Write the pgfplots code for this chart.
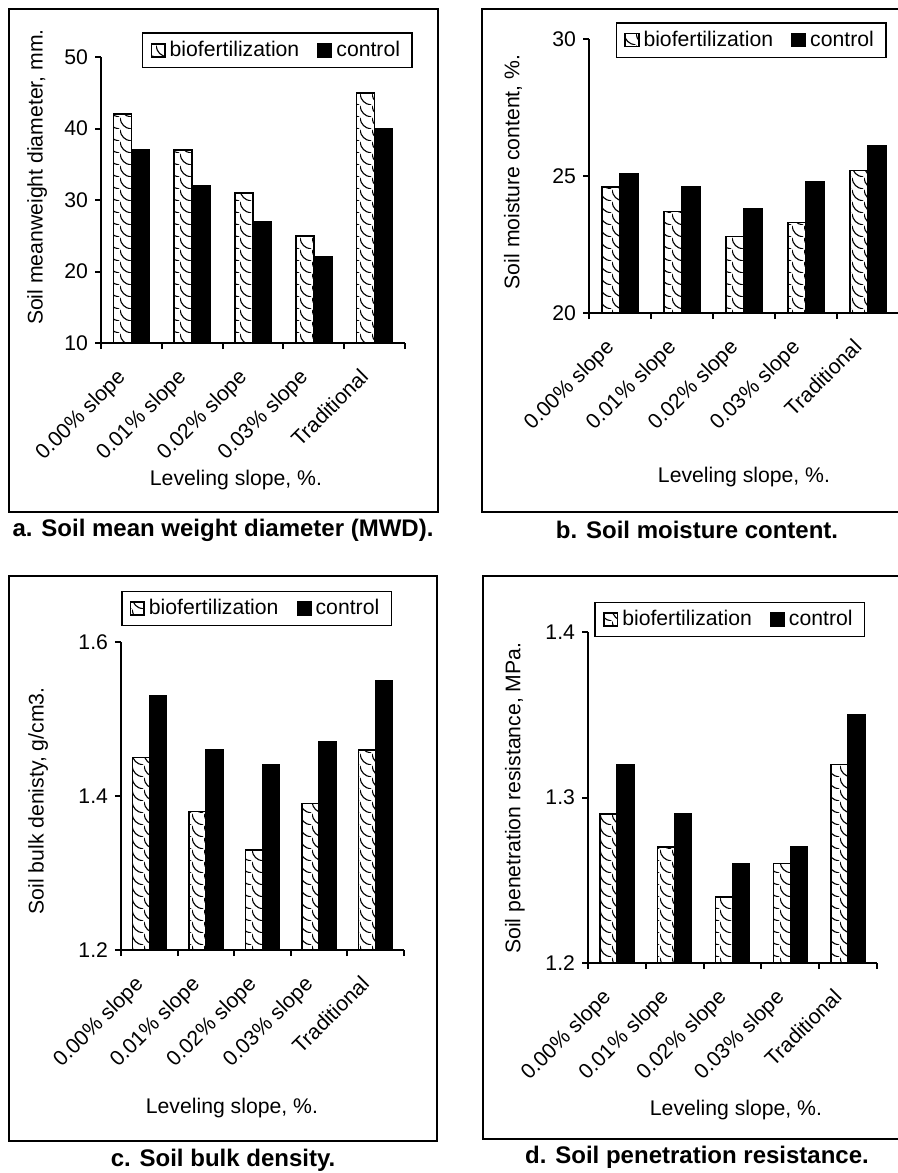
\documentclass[border=0pt]{standalone}
\usepackage{pgfplots}
\pgfplotsset{compat=1.18}
\usepackage{fontspec}
\setmainfont{Liberation Sans}
\usetikzlibrary{patterns}
\pgfdeclarepatternformonly{scales}{\pgfqpoint{0pt}{0pt}}{\pgfqpoint{6pt}{6pt}}{\pgfqpoint{6pt}{6pt}}{%
  \pgfsetlinewidth{0.6pt}%
  \pgfpathmoveto{\pgfqpoint{0pt}{6pt}}%
  \pgfpathcurveto{\pgfqpoint{0.5pt}{2.5pt}}{\pgfqpoint{2.5pt}{0.5pt}}{\pgfqpoint{6pt}{0pt}}%
  \pgfusepath{stroke}%
}
\pgfplotsset{
  panel/.style={
    scale only axis,
    axis lines*=left,
    ybar=0pt,
    xmin=0, xmax=5,
    xtick={0,...,5}, xticklabels={},
    extra x ticks={0.5,1.5,2.5,3.5,4.5},
    extra x tick labels={0.00\% slope,0.01\% slope,0.02\% slope,0.03\% slope,Traditional},
    extra x tick style={major tick length=0pt, tick label style={xshift=-8pt, yshift=-7.3pt, rotate=45, anchor=north east}},
    tick align=outside,
    major tick length=3pt,
    axis line style={line width=1pt},
    tick style={black, line width=1pt},
    font=\fontsize{10.6}{12.7}\selectfont,
    /pgf/number format/assume math mode=true,
    legend columns=2,
    legend cell align=left,
    legend style={draw=black, line width=0.75pt, anchor=center,
      font=\fontsize{10.6}{12.7}\selectfont,
      inner xsep=4pt, inner ysep=2pt,
      /tikz/every even column/.append style={column sep=7pt}},
    legend image code/.code={\draw[##1] (0pt,-3.3pt) rectangle (6.8pt,3.3pt);},
    xlabel={Leveling slope, \%.},
  },
  bio/.style={draw=black, line width=0.75pt, preaction={fill=white}, pattern=scales},
  ctrl/.style={draw=black, line width=0.75pt, fill=black},
}
\begin{document}
\begin{tikzpicture}
\useasboundingbox (0,0) rectangle (449pt,-586.5pt);
\clip (0,0) rectangle (449pt,-586.5pt);
% frames
\draw[line width=1pt] (4.5pt,-4.5pt) rectangle (219pt,-256pt);
\draw[line width=1pt] (241pt,-4.5pt) rectangle (460pt,-256pt);
\draw[line width=1pt] (4.5pt,-288pt) rectangle (218.5pt,-570.5pt);
\draw[line width=1pt] (241.5pt,-288pt) rectangle (460pt,-569.5pt);
% captions
\begin{scope}[every node/.style={font=\bfseries\fontsize{12}{14}\selectfont}]
\node at (111.5pt,-265pt) {a. Soil mean weight diameter (MWD).};
\node at (348.5pt,-265pt) {b. Soil moisture content.};
\node at (111.5pt,-580pt) {c. Soil bulk density.};
\node at (348.5pt,-578.5pt) {d. Soil penetration resistance.};
\end{scope}

% panel a
\begin{axis}[panel, at={(50.5pt,-171.5pt)}, anchor=south west,
  width=152pt, height=143pt, bar width=9pt,
  ymin=10, ymax=50, ytick={10,20,30,40,50},
  ylabel={Soil meanweight diameter, mm.},
  ylabel style={at={(axis description cs:-0.21,0.58)}, anchor=center},
  xlabel style={at={(axis description cs:0.444,-0.479)}, anchor=center},
  legend style={at={(axis description cs:0.58,1.023)}}]
\addplot[bio] coordinates {(0.5,42) (1.5,37) (2.5,31) (3.5,25) (4.5,45)};
\addplot[ctrl] coordinates {(0.5,37) (1.5,32) (2.5,27) (3.5,22) (4.5,40)};
\legend{biofertilization,control}
\end{axis}

% panel b
\begin{axis}[panel, at={(294.5pt,-156.5pt)}, anchor=south west,
  width=155pt, height=137pt, bar width=9pt,
  ymin=20, ymax=30, ytick={20,25,30},
  ylabel={Soil moisture content, \%.},
  ylabel style={at={(axis description cs:-0.245,0.515)}, anchor=center},
  xlabel style={at={(axis description cs:0.5,-0.599)}, anchor=center},
  legend style={at={(axis description cs:0.523,0.996)}}]
\addplot[bio] coordinates {(0.5,24.6) (1.5,23.7) (2.5,22.8) (3.5,23.3) (4.5,25.2)};
\addplot[ctrl] coordinates {(0.5,25.1) (1.5,24.6) (2.5,23.8) (3.5,24.8) (4.5,26.1)};
\legend{biofertilization,control}
\end{axis}

% panel c
\begin{axis}[panel, at={(60.5pt,-475pt)}, anchor=south west,
  width=141.5pt, height=154pt, bar width=8.5pt,
  ymin=1.2, ymax=1.6, ytick={1.2,1.4,1.6},
  yticklabel style={/pgf/number format/.cd, fixed, fixed zerofill, precision=1},
  ylabel={Soil bulk denisty, g/cm3.},
  ylabel style={at={(axis description cs:-0.293,0.484)}, anchor=center},
  xlabel style={at={(axis description cs:0.392,-0.513)}, anchor=center},
  legend style={at={(axis description cs:0.479,1.109)}}]
\addplot[bio] coordinates {(0.5,1.45) (1.5,1.38) (2.5,1.33) (3.5,1.39) (4.5,1.46)};
\addplot[ctrl] coordinates {(0.5,1.53) (1.5,1.46) (2.5,1.44) (3.5,1.47) (4.5,1.55)};
\legend{biofertilization,control}
\end{axis}

% panel d
\begin{axis}[panel, at={(294pt,-481.5pt)}, anchor=south west,
  width=144.5pt, height=165.5pt, bar width=8.5pt,
  ymin=1.2, ymax=1.4, ytick={1.2,1.3,1.4},
  yticklabel style={/pgf/number format/.cd, fixed, fixed zerofill, precision=1},
  ylabel={Soil penetration resistance, MPa.},
  ylabel style={at={(axis description cs:-0.253,0.498)}, anchor=center},
  xlabel style={at={(axis description cs:0.512,-0.444)}, anchor=center},
  legend style={at={(axis description cs:0.491,1.038)}}]
\addplot[bio] coordinates {(0.5,1.29) (1.5,1.27) (2.5,1.24) (3.5,1.26) (4.5,1.32)};
\addplot[ctrl] coordinates {(0.5,1.32) (1.5,1.29) (2.5,1.26) (3.5,1.27) (4.5,1.35)};
\legend{biofertilization,control}
\end{axis}
\end{tikzpicture}
\end{document}
